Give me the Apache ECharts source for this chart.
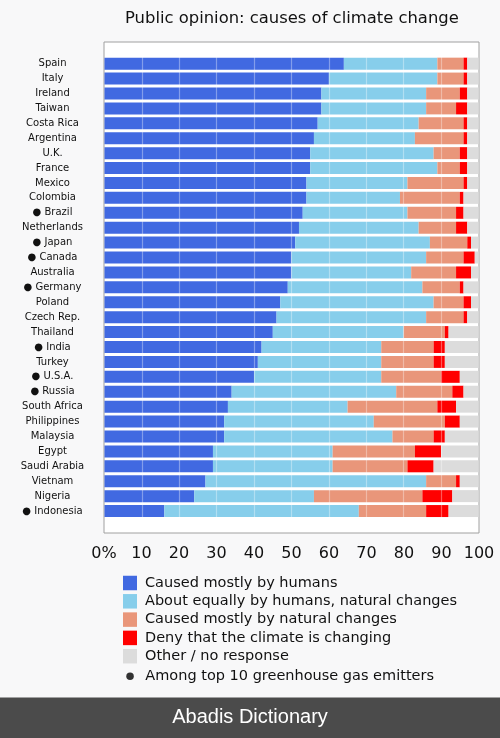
<!DOCTYPE html>
<html>
<head>
<meta charset="utf-8">
<style>
  html, body { margin: 0; padding: 0; background: #f8f8f9; }
  #chart { width: 500px; height: 738px; }
</style>
<script src="https://cdn.jsdelivr.net/npm/echarts@6/dist/echarts.min.js"></script>
</head>
<body>
<div id="chart"></div>
<script>
// ---- data ----
const countries = ["Spain","Italy","Ireland","Taiwan","Costa Rica","Argentina","U.K.","France","Mexico","Colombia","Brazil","Netherlands","Japan","Canada","Australia","Germany","Poland","Czech Rep.","Thailand","India","Turkey","U.S.A.","Russia","South Africa","Philippines","Malaysia","Egypt","Saudi Arabia","Vietnam","Nigeria","Indonesia"];
const topEmitters = ["Brazil","Japan","Canada","Germany","India","U.S.A.","Russia","Indonesia"];
const humans       = [64,60,58,58,57,56,55,55,54,54,53,52,51,50,50,49,47,46,45,42,41,40,34,33,32,32,29,29,27,24,16];
const equally      = [25,29,28,28,27,27,33,34,27,25,28,32,36,36,32,36,41,40,35,32,33,34,44,32,40,45,32,32,59,32,52];
const natural      = [ 7, 7, 9, 8,12,13, 7, 6,15,16,13,10,10,10,12,10, 8,10,11,14,14,16,15,24,19,11,22,20, 8,29,18];
const deny         = [ 1, 1, 2, 3, 1, 1, 2, 2, 1, 1, 2, 3, 1, 3, 4, 1, 2, 1, 1, 3, 3, 5, 3, 5, 4, 3, 7, 7, 1, 8, 6];
const other        = [ 3, 3, 3, 3, 3, 3, 3, 3, 3, 4, 4, 3, 2, 1, 2, 4, 2, 3, 8, 9, 9, 5, 4, 6, 5, 9,10,12, 5, 7, 8];
const seriesNames  = ["Caused mostly by humans","About equally by humans, natural changes","Caused mostly by natural changes","Deny that the climate is changing","Other / no response"];
const seriesColors = ["#4169e1","#87ceeb","#e9967a","#ff0000","#dcdcdc"];
const markerName   = "Among top 10 greenhouse gas emitters";
const xTicks       = [0,10,20,30,40,50,60,70,80,90,100];

const labels = countries.map(c => topEmitters.includes(c) ? "\u25CF " + c : c);
const values = [humans, equally, natural, deny, other];

const font = "DejaVu Sans";
const chart = echarts.init(document.getElementById('chart'), null, {renderer: 'canvas'});

const barSeries = seriesNames.map((n, i) => ({
  name: n, type: 'bar', stack: 'total', xAxisIndex: 1, yAxisIndex: 1,
  barWidth: 12, data: values[i], itemStyle: {color: seriesColors[i]},
  silent: true, animation: false
}));

// light gridlines drawn over the bars
const gridOverlay = {
  name: 'gridlines', type: 'line', xAxisIndex: 1, yAxisIndex: 1, data: [], z: 6,
  silent: true, animation: false,
  markLine: {
    silent: true, symbol: ['none', 'none'], animation: false,
    label: {show: false},
    lineStyle: {color: 'rgba(255,255,255,0.35)', width: 1.2, type: 'solid'},
    emphasis: {disabled: true},
    data: xTicks.slice(1, -1).map(v => ({xAxis: v}))
  }
};

chart.setOption({
  backgroundColor: '#f8f8f9',
  animation: false,
  title: {
    text: 'Public opinion: causes of climate change',
    left: 120, top: 6,
    textStyle: {fontFamily: font, fontSize: 16.4, fontWeight: 'normal', color: '#111'}
  },
  grid: [
    {left: 104, right: 21, top: 42, bottom: 205, show: true, backgroundColor: '#ffffff', borderColor: '#a0a0a0', borderWidth: 1},
    {left: 104.5, right: 21.5, top: 56.2, bottom: 219.5}
  ],
  xAxis: [
    {gridIndex: 0, type: 'value', min: xTicks[0], max: xTicks[xTicks.length - 1], interval: 10,
     axisLine: {show: false}, axisTick: {show: false}, splitLine: {show: false},
     axisLabel: {margin: 13, fontFamily: font, fontSize: 16, color: '#111',
       formatter: v => v === 0 ? '0%' : String(v)}},
    {gridIndex: 1, type: 'value', min: xTicks[0], max: xTicks[xTicks.length - 1], interval: 10,
     axisLine: {show: false}, axisTick: {show: false}, axisLabel: {show: false},
     splitLine: {show: false}}
  ],
  yAxis: [
    {gridIndex: 0, type: 'value', show: false},
    {gridIndex: 1, type: 'category', data: labels, inverse: true,
     axisLine: {show: false}, axisTick: {show: false}, splitLine: {show: false},
     axisLabel: {interval: 0, margin: 52, align: 'center', fontFamily: font, fontSize: 10, color: '#111'}}
  ],
  legend: [
    {data: seriesNames, orient: 'vertical', left: 118, top: 570.5,
     itemWidth: 14, itemHeight: 14.5, itemGap: 3.3, icon: 'rect', selectedMode: false,
     textStyle: {fontFamily: font, fontSize: 14.5, color: '#111', padding: [0,0,0,3], lineHeight: 14.5}},
    {data: [{name: markerName, icon: 'circle'}], orient: 'vertical', left: 121.3, top: 663.7,
     itemWidth: 7.5, itemHeight: 7.5, selectedMode: false,
     textStyle: {fontFamily: font, fontSize: 14.5, color: '#111', padding: [0,0,0,6.5]}}
  ],
  series: barSeries.concat([
    {name: markerName, type: 'scatter', xAxisIndex: 1, yAxisIndex: 1, data: [], itemStyle: {color: '#000'}},
    gridOverlay
  ]),
  graphic: [
    {type: 'rect', left: 0, bottom: 0, shape: {width: 500, height: 40.5}, style: {fill: '#4b4b4b'}, silent: true},
    {type: 'text', left: 'center', bottom: 11, style: {text: 'Abadis Dictionary', fill: '#ffffff',
      font: '20px "Liberation Sans", Arial, sans-serif'}, silent: true}
  ]
});
</script>
</body>
</html>
